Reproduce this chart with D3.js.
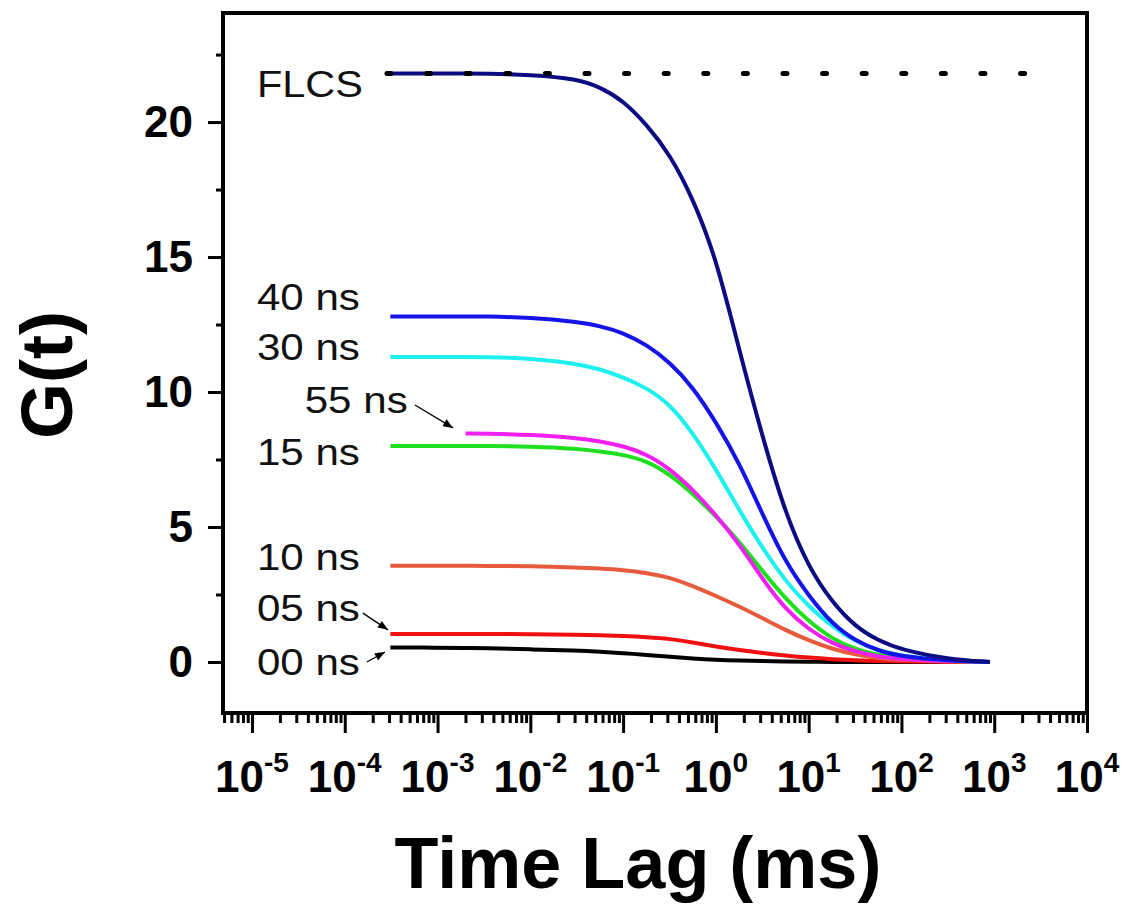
<!DOCTYPE html>
<html>
<head>
<meta charset="utf-8">
<title>G(t) vs Time Lag</title>
<script src="https://cdn.jsdelivr.net/npm/d3@7/dist/d3.min.js"></script>
<style>
  body { margin: 0; background: #fff; }
  svg { font-family: "Liberation Sans", Arial, sans-serif; }
</style>
</head>
<body>
<svg width="1130" height="905"></svg>
<script>
var lagTimes = [3.1e-4, 1e-3, 2e-3, 3.2e-3, 1e-2, 3.2e-2, 5.6e-2, 0.1, 0.18, 0.32, 0.56, 1, 1.8, 3.2, 5.6, 10, 18, 32, 56, 100, 320, 900];

var g00   = [0.54, 0.53, 0.52, 0.51, 0.47, 0.42, 0.38, 0.33, 0.26, 0.19, 0.13, 0.08, 0.05, 0.03, 0.02, 0.01, 0, 0, 0, 0, 0, 0];
var g05   = [1.04, 1.04, 1.04, 1.04, 1.03, 1.01, 0.99, 0.96, 0.92, 0.86, 0.72, 0.57, 0.44, 0.33, 0.24, 0.16, 0.1, 0.06, 0.03, 0.02, 0, 0];
var g10   = [3.56, 3.56, 3.56, 3.56, 3.55, 3.5, 3.46, 3.41, 3.3, 3.13, 2.82, 2.45, 2.05, 1.62, 1.18, 0.8, 0.48, 0.27, 0.14, 0.07, 0.02, 0];
var g15   = [8.0, 8.0, 8.0, 8.0, 7.98, 7.9, 7.8, 7.68, 7.45, 6.95, 6.25, 5.4, 4.45, 3.35, 2.35, 1.5, 0.85, 0.46, 0.25, 0.13, 0.03, 0];
var g55   = [null, null, 8.46, 8.46, 8.42, 8.3, 8.18, 8.0, 7.7, 7.15, 6.4, 5.45, 4.35, 3.05, 1.96, 1.2, 0.68, 0.38, 0.2, 0.1, 0.03, 0];
var g30   = [11.3, 11.3, 11.3, 11.3, 11.25, 11.05, 10.85, 10.55, 10.15, 9.55, 8.5, 7.15, 5.6, 4.2, 3.0, 2.05, 1.3, 0.76, 0.42, 0.22, 0.05, 0];
var g40   = [12.8, 12.8, 12.8, 12.8, 12.76, 12.6, 12.45, 12.2, 11.75, 11.1, 10.2, 8.9, 7.35, 5.45, 3.7, 2.45, 1.4, 0.78, 0.42, 0.2, 0.05, 0];
var gFLCS = [21.8, 21.8, 21.8, 21.8, 21.75, 21.6, 21.3, 20.8, 19.9, 18.8, 17.2, 15.0, 11.5, 8.3, 5.5, 3.5, 2.2, 1.3, 0.8, 0.45, 0.1, 0];

var seriesNames  = ["00 ns", "05 ns", "10 ns", "15 ns", "55 ns", "30 ns", "40 ns", "FLCS"];
var seriesValues = [g00, g05, g10, g15, g55, g30, g40, gFLCS];
var seriesColors = ["#000000", "#f01010", "#e85a3c", "#1ee01e", "#f020f0", "#1ef0f0", "#1414e8", "#0c0c82"];

// FLCS amplitude, shown as a dotted level line
var flcsLevel = 21.8;
var flcsLevelRange = [2.85e-4, 4.7e3];

// curve labels, anchored in data units (lag time, G)
var labelText = ["FLCS", "40 ns", "30 ns", "55 ns", "15 ns", "10 ns", "05 ns", "00 ns"];
var labelT    = [1.13e-5, 1.13e-5, 1.13e-5, 3.7e-5, 1.13e-5, 1.13e-5, 1.13e-5, 1.13e-5];
var labelG    = [20.93, 13.04, 11.19, 9.22, 7.3, 3.41, 1.52, -0.48];

// annotation arrows [t0, G0, t1, G1]
var arrows = [
  [5.7e-4, 9.52, 1.47e-3, 8.67],
  [1.57e-4, 1.81, 2.92e-4, 1.19],
  [1.73e-4, 0.0, 2.71e-4, 0.37]
];

var xTickPowers = [-5, -4, -3, -2, -1, 0, 1, 2, 3, 4];
var yTicks = [0, 5, 10, 15, 20];
var yMinorTicks = [2.5, 7.5, 12.5, 17.5, 22.5];

var svg = d3.select("svg");

var x = d3.scaleLog()
    .domain([4.87e-6, 1e4])
    .range([223, 1087]);

var y = d3.scaleLinear()
    .domain([-1.89, 24.04])
    .range([713, 13]);

var defs = svg.append("defs");
defs.append("marker")
    .attr("id", "arrow")
    .attr("viewBox", "0 0 10 8")
    .attr("refX", 10).attr("refY", 4)
    .attr("markerWidth", 11).attr("markerHeight", 8)
    .attr("markerUnits", "userSpaceOnUse")
    .attr("orient", "auto")
  .append("path")
    .attr("d", "M0,0L10,4L0,8Z")
    .attr("fill", "#000");

// x axis ticks
var xMinor = x.ticks(30).filter(function(d) {
  var l = Math.log10(d);
  return Math.abs(l - Math.round(l)) > 1e-6;
});
var xMajor = xTickPowers.map(function(p) { return Math.pow(10, p); });

svg.append("g")
    .attr("transform", "translate(0,713)")
    .call(d3.axisBottom(x).tickValues(xMinor).tickSize(10).tickFormat(""))
    .call(function(g) { g.select(".domain").remove(); })
    .selectAll("line").attr("stroke-width", 3);

svg.append("g")
    .attr("transform", "translate(0,713)")
    .call(d3.axisBottom(x).tickValues(xMajor).tickSize(20).tickFormat(""))
    .call(function(g) { g.select(".domain").remove(); })
    .selectAll("line").attr("stroke-width", 3);

svg.append("g")
  .selectAll("text")
  .data(xTickPowers)
  .join("text")
    .attr("x", function(d) { return x(Math.pow(10, d)); })
    .attr("y", 792)
    .attr("text-anchor", "middle")
    .attr("font-weight", "bold")
    .attr("font-size", 44)
    .each(function(d) {
      var t = d3.select(this);
      t.append("tspan").text("10");
      t.append("tspan").attr("dy", -20).attr("font-size", 28).text(d);
    });

// y axis ticks
svg.append("g")
    .attr("transform", "translate(223,0)")
    .call(d3.axisLeft(y).tickValues(yMinorTicks).tickSize(7).tickFormat(""))
    .call(function(g) { g.select(".domain").remove(); })
    .selectAll("line").attr("stroke-width", 3);

var yAxis = svg.append("g")
    .attr("transform", "translate(223,0)")
    .call(d3.axisLeft(y).tickValues(yTicks).tickSize(15).tickPadding(15));
yAxis.select(".domain").remove();
yAxis.selectAll("line").attr("stroke-width", 3);
yAxis.selectAll("text")
    .attr("font-family", "'Liberation Sans', Arial, sans-serif")
    .attr("font-weight", "bold")
    .attr("font-size", 44)
    .attr("fill", "#000");

// curves
var line = d3.line()
    .defined(function(d) { return d[1] != null; })
    .x(function(d) { return x(d[0]); })
    .y(function(d) { return y(d[1]); })
    .curve(d3.curveBasis);

svg.append("g")
  .selectAll("path")
  .data(seriesValues)
  .join("path")
    .attr("fill", "none")
    .attr("stroke", function(d, i) { return seriesColors[i]; })
    .attr("stroke-width", 4)
    .attr("d", function(vals) {
      return line(lagTimes.map(function(t, i) { return [t, vals[i]]; }));
    });

// dotted FLCS level
svg.append("line")
    .attr("x1", x(flcsLevelRange[0]))
    .attr("x2", x(flcsLevelRange[1]))
    .attr("y1", y(flcsLevel))
    .attr("y2", y(flcsLevel))
    .attr("stroke", "#000")
    .attr("stroke-width", 5)
    .attr("stroke-linecap", "round")
    .attr("stroke-dasharray", "4 35.6");

// labels
svg.append("g")
  .selectAll("text")
  .data(labelText)
  .join("text")
    .attr("x", function(d, i) { return x(labelT[i]); })
    .attr("y", function(d, i) { return y(labelG[i]); })
    .attr("font-size", 36)
    .attr("textLength", function(d) { return d === "FLCS" ? 106 : 103; })
    .attr("lengthAdjust", "spacingAndGlyphs")
    .attr("fill", "#111")
    .text(function(d) { return d; });

svg.append("g")
  .selectAll("line")
  .data(arrows)
  .join("line")
    .attr("x1", function(d) { return x(d[0]); })
    .attr("y1", function(d) { return y(d[1]); })
    .attr("x2", function(d) { return x(d[2]); })
    .attr("y2", function(d) { return y(d[3]); })
    .attr("stroke", "#000")
    .attr("stroke-width", 1.3)
    .attr("marker-end", "url(#arrow)");

// frame
svg.append("rect")
    .attr("x", 223).attr("y", 13)
    .attr("width", 1087 - 223).attr("height", 713 - 13)
    .attr("fill", "none")
    .attr("stroke", "#000")
    .attr("stroke-width", 4);

// axis titles
svg.append("text")
    .attr("x", 638)
    .attr("y", 888)
    .attr("text-anchor", "middle")
    .attr("font-weight", "bold")
    .attr("font-size", 72)
    .text("Time Lag (ms)");

svg.append("text")
    .attr("transform", "translate(72,375) rotate(-90)")
    .attr("text-anchor", "middle")
    .attr("font-weight", "bold")
    .attr("font-size", 72)
    .text("G(t)");
</script>
</body>
</html>
